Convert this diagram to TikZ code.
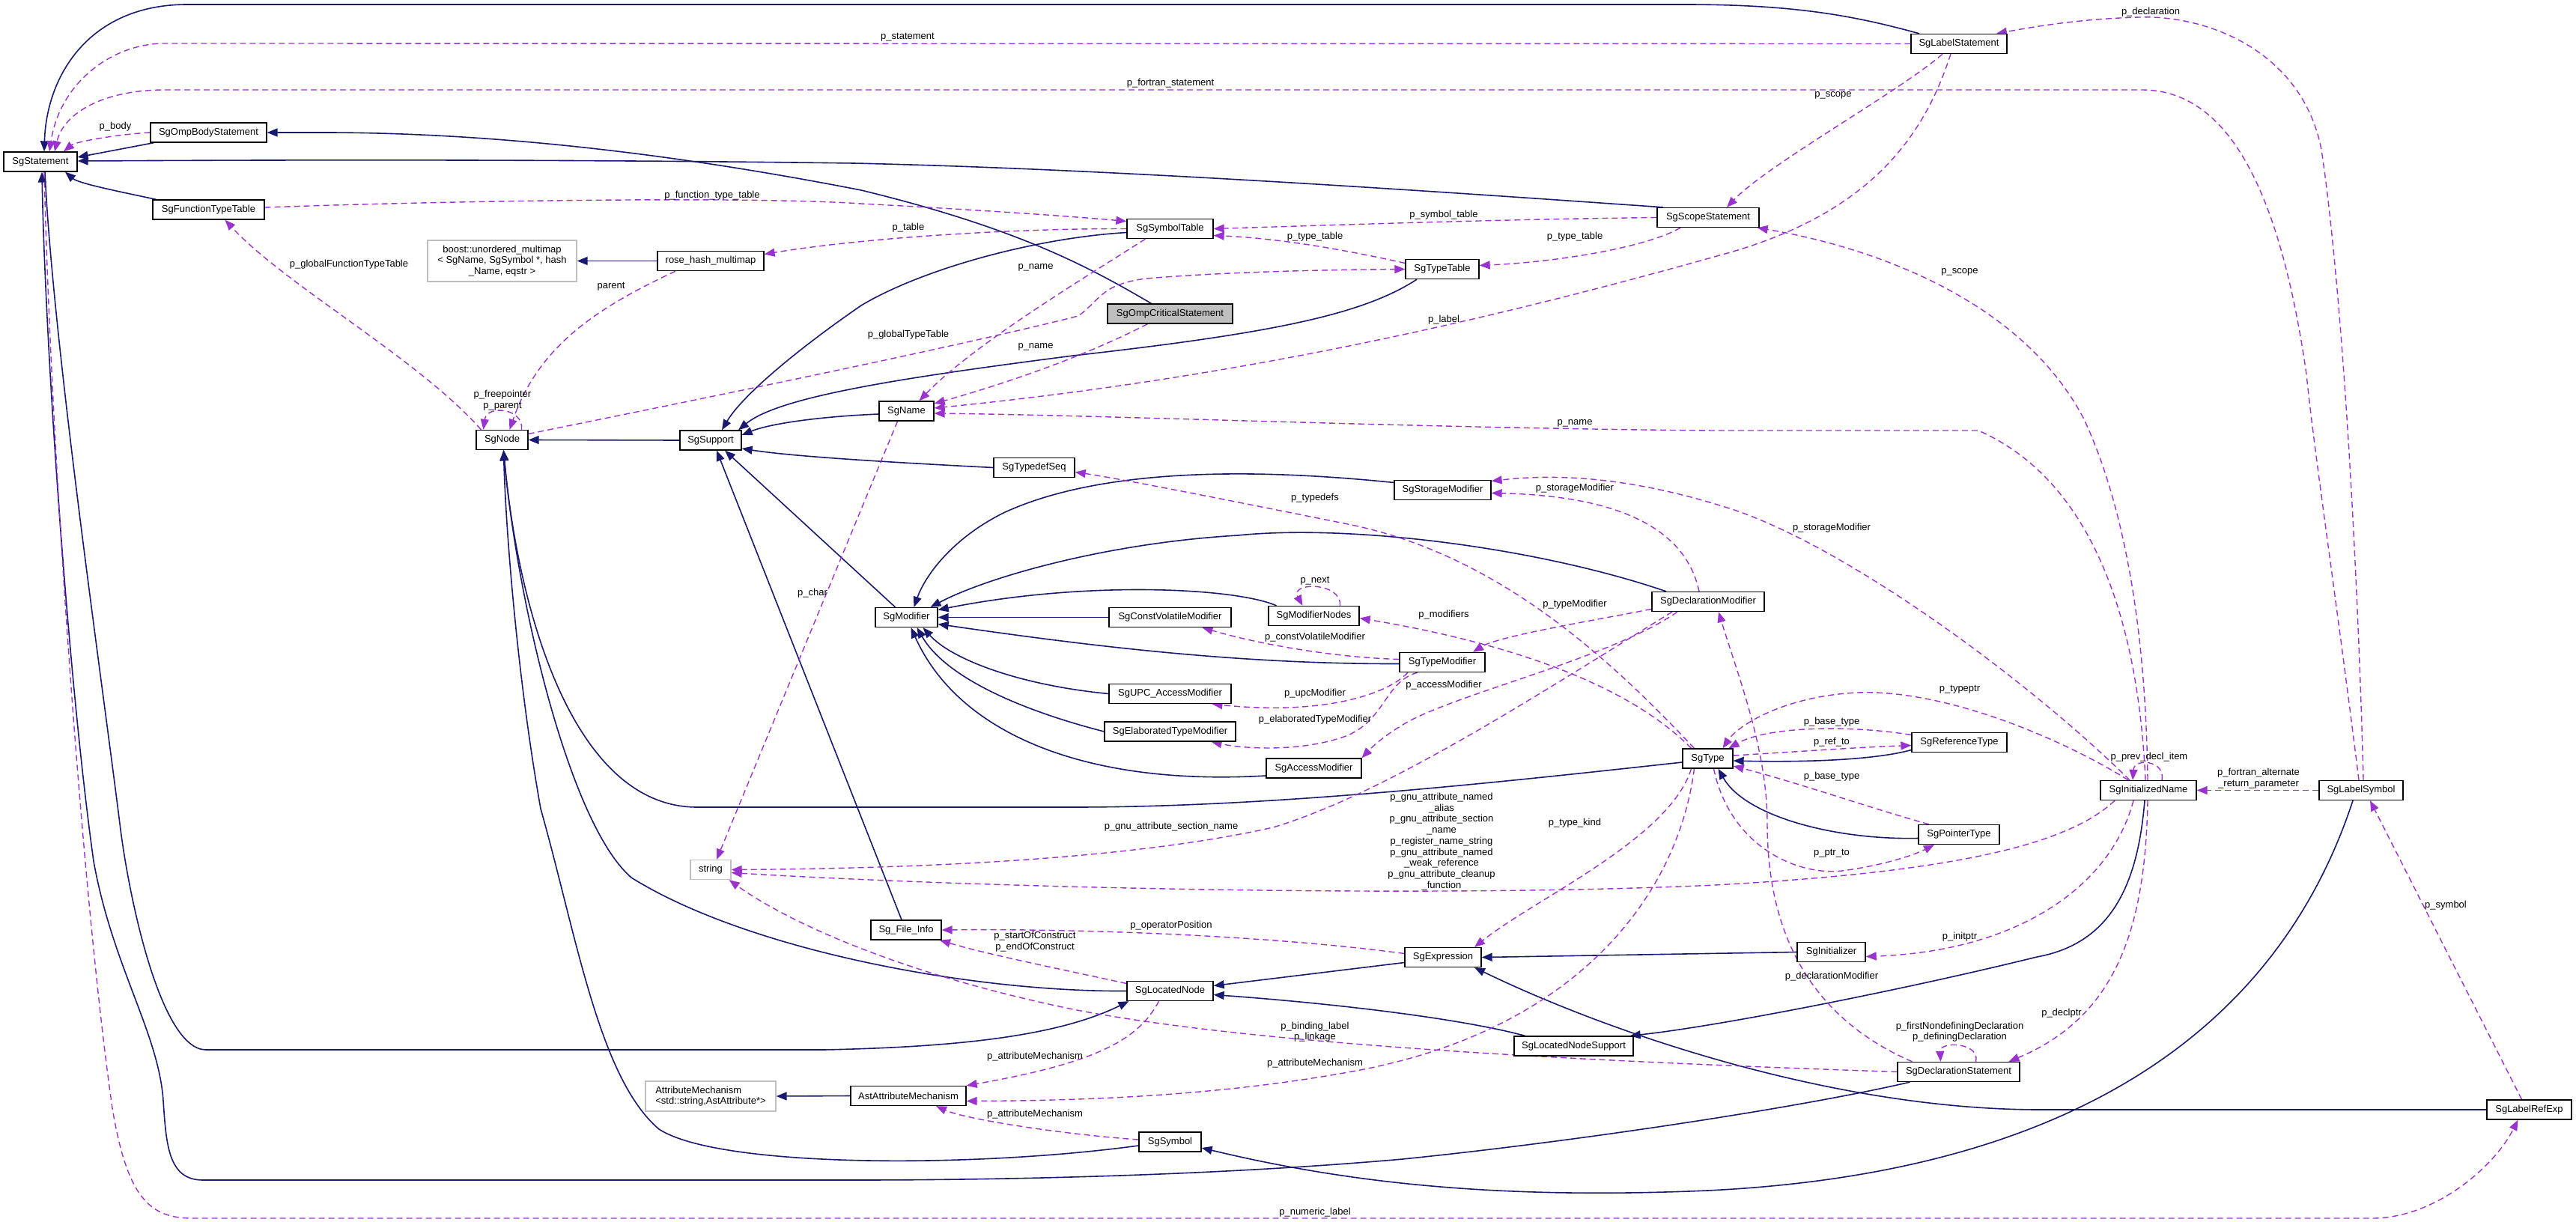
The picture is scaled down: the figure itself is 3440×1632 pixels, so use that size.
\documentclass[tikz,border=0pt]{standalone}
\usepackage{fontspec}
\setmainfont{Liberation Sans}
\usetikzlibrary{arrows.meta}
\definecolor{navyc}{RGB}{25,25,112}
\definecolor{purp}{RGB}{154,50,205}
\definecolor{extgray}{RGB}{191,191,191}
\newcommand\dfont{\fontsize{13pt}{14.75pt}\selectfont}
\pgfdeclarelayer{bg}
\pgfsetlayers{bg,main}
\tikzset{
  box/.style={draw=black, line width=1.3pt, fill=white, inner sep=0pt, minimum height=26pt, font=\dfont},
  ext/.style={box, draw=extgray},
  inh/.style={draw=navyc, line width=1.6pt, -{Triangle[length=14pt,width=11pt]}},
  use/.style={draw=purp, line width=1.4pt, dash pattern=on 8pt off 5pt, -{Triangle[length=14pt,width=11pt]}},
  lab/.style={font=\dfont, inner sep=0pt, align=center}
}
\begin{document}
\begin{tikzpicture}[x=1pt,y=-1pt]
\useasboundingbox (0,0) rectangle (3440,1632);
% nodes
\node[box, minimum width=98pt] (stmt) at (54,216) {SgStatement};
\node[box, minimum width=155pt] (ombody) at (278.5,177) {SgOmpBodyStatement};
\node[box, minimum width=149pt] (ftt) at (278.5,280) {SgFunctionTypeTable};
\node[ext, minimum width=199pt, minimum height=55pt, align=center] (boost) at (670.5,348.5) {boost::unordered\_multimap\\< SgName, SgSymbol *, hash\\\_Name, eqstr >};
\node[box, minimum width=142pt] (rose) at (949,348.5) {rose\_hash\_multimap};
\node[box, minimum width=69pt] (sgnode) at (670.5,587.5) {SgNode};
\node[box, minimum width=82pt] (support) at (949,588) {SgSupport};
\node[box, minimum width=115pt] (symtab) at (1562.5,305.5) {SgSymbolTable};
\node[box, minimum width=98pt] (typetab) at (1926,359.5) {SgTypeTable};
\node[box, fill=extgray, minimum width=167pt] (crit) at (1562.5,419) {SgOmpCriticalStatement};
\node[box, minimum width=73pt] (name) at (1210.5,549) {SgName};
\node[box, minimum width=136pt] (scope) at (2281,290.5) {SgScopeStatement};
\node[box, minimum width=128pt] (labstmt) at (2616,58.5) {SgLabelStatement};
\node[box, minimum width=108pt] (tdseq) at (1381,624.5) {SgTypedefSeq};
\node[box, minimum width=129pt] (storage) at (1926.5,654.5) {SgStorageModifier};
\node[box, minimum width=83pt] (modifier) at (1210.5,824.5) {SgModifier};
\node[box, minimum width=163pt] (cvmod) at (1562.5,824.5) {SgConstVolatileModifier};
\node[box, minimum width=121pt] (modnodes) at (1754.5,822.5) {SgModifierNodes};
\node[box, minimum width=150pt] (declmod) at (2281,803.5) {SgDeclarationModifier};
\node[box, minimum width=114pt] (typemod) at (1926,884.5) {SgTypeModifier};
\node[box, minimum width=163pt] (upc) at (1562.5,926.5) {SgUPC\_AccessModifier};
\node[box, minimum width=175pt] (elab) at (1562.5,977) {SgElaboratedTypeModifier};
\node[box, minimum width=127pt] (access) at (1754.5,1026) {SgAccessModifier};
\node[box, minimum width=67pt] (type) at (2280.5,1013) {SgType};
\node[box, minimum width=127pt] (reftype) at (2616.5,991.5) {SgReferenceType};
\node[box, minimum width=128pt] (initname) at (2869,1055.5) {SgInitializedName};
\node[box, minimum width=112pt] (labsym) at (3153,1055.5) {SgLabelSymbol};
\node[ext, minimum width=54pt] (string) at (949,1161.5) {string};
\node[ext, minimum width=174pt, minimum height=40pt, align=left] (attrmech) at (949,1464) {AttributeMechanism\\<std::string,AstAttribute*>};
\node[box, minimum width=94pt] (fileinfo) at (1210,1242) {Sg\_File\_Info};
\node[box, minimum width=102pt] (expr) at (1927,1278.5) {SgExpression};
\node[box, minimum width=115pt] (locnode) at (1562.5,1323.5) {SgLocatedNode};
\node[box, minimum width=159pt] (locsupp) at (2101.5,1397) {SgLocatedNodeSupport};
\node[box, minimum width=154pt] (astattr) at (1213,1463.5) {AstAttributeMechanism};
\node[box, minimum width=83pt] (symbol) at (1562.5,1525) {SgSymbol};
\node[box, minimum width=108pt] (ptrtype) at (2616,1114.5) {SgPointerType};
\node[box, minimum width=91pt] (initializer) at (2445.5,1271.5) {SgInitializer};
\node[box, minimum width=163pt] (declstmt) at (2615.5,1431.5) {SgDeclarationStatement};
\node[box, minimum width=113pt] (labref) at (3377.5,1482) {SgLabelRefExp};
% labels
\node[lab] (l1) at (154,169) {p\_body};
\node[lab] (l2) at (1212,50) {p\_statement};
\node[lab] (l3) at (1563,111) {p\_fortran\_statement};
\node[lab] (l4) at (2872,16) {p\_declaration};
\node[lab] (l5) at (2448,127) {p\_scope};
\node[lab] (l6) at (1928,427) {p\_label};
\node[lab] (l7) at (2617,363) {p\_scope};
\node[lab] (l8) at (1928,287) {p\_symbol\_table};
\node[lab] (l9) at (2103,316) {p\_type\_table};
\node[lab] (l10) at (1756,316) {p\_type\_table};
\node[lab] (l11) at (951,261) {p\_function\_type\_table};
\node[lab] (l12) at (1213,304) {p\_table};
\node[lab] (l13) at (816,383) {parent};
\node[lab] (l14) at (466,353) {p\_globalFunctionTypeTable};
\node[lab] (l15) at (1213,447) {p\_globalTypeTable};
\node[lab] (l16) at (671,535) {p\_freepointer\\p\_parent};
\node[lab] (l17) at (1383,357) {p\_name};
\node[lab] (l18) at (1383,463) {p\_name};
\node[lab] (l19) at (2103,565) {p\_name};
\node[lab] (l20) at (1085,792) {p\_char};
\node[lab] (l21) at (1756,665) {p\_typedefs};
\node[lab] (l22) at (2103,652) {p\_storageModifier};
\node[lab] (l23) at (2446,705) {p\_storageModifier};
\node[lab] (l24) at (1756,776) {p\_next};
\node[lab] (l25) at (1928,821) {p\_modifiers};
\node[lab] (l26) at (1756,851) {p\_constVolatileModifier};
\node[lab] (l27) at (2103,807) {p\_typeModifier};
\node[lab] (l28) at (1928,915) {p\_accessModifier};
\node[lab] (l29) at (1756,926) {p\_upcModifier};
\node[lab] (l30) at (1756,961) {p\_elaboratedTypeModifier};
\node[lab] (l31) at (1564,1104) {p\_gnu\_attribute\_section\_name};
\node[lab] (l32) at (1925,1124) {p\_gnu\_attribute\_named\\\_alias\\p\_gnu\_attribute\_section\\\_name\\p\_register\_name\_string\\p\_gnu\_attribute\_named\\\_weak\_reference\\p\_gnu\_attribute\_cleanup\\\_function};
\node[lab] (l33) at (2103,1099) {p\_type\_kind};
\node[lab] (l34) at (1564,1236) {p\_operatorPosition};
\node[lab] (l35) at (1382,1258) {p\_startOfConstruct\\p\_endOfConstruct};
\node[lab] (l36) at (1756,1378) {p\_binding\_label\\p\_linkage};
\node[lab] (l37) at (1382,1411) {p\_attributeMechanism};
\node[lab] (l38) at (1756,1420) {p\_attributeMechanism};
\node[lab] (l39) at (1382,1488) {p\_attributeMechanism};
\node[lab] (l40) at (1756,1619) {p\_numeric\_label};
\node[lab] (l41) at (2617,921) {p\_typeptr};
\node[lab] (l42) at (2446,964) {p\_base\_type};
\node[lab] (l43) at (2446,991) {p\_ref\_to};
\node[lab] (l44) at (2446,1037) {p\_base\_type};
\node[lab] (l45) at (2870,1011) {p\_prev\_decl\_item};
\node[lab] (l46) at (3016,1040) {p\_fortran\_alternate\\\_return\_parameter};
\node[lab] (l47) at (2446,1140) {p\_ptr\_to};
\node[lab] (l48) at (2617,1251) {p\_initptr};
\node[lab] (l49) at (2446,1304) {p\_declarationModifier};
\node[lab] (l50) at (2753,1353) {p\_declptr};
\node[lab] (l51) at (2617,1378) {p\_firstNondefiningDeclaration\\p\_definingDeclaration};
\node[lab] (l52) at (3266,1209) {p\_symbol};
\begin{pgfonlayer}{bg}
\fill[white] (0,0) rectangle (3440,1632);
% inheritance
\draw[inh] ([xshift=-73pt]ombody.south) -- ([yshift=6pt]stmt.east);
\draw[inh] ([xshift=-25pt]crit.north) .. controls (1455,357) and (1360,305) .. (1150,254) .. controls (950,215) and (700,178) .. (440,177) -- (ombody.east);
\draw[inh] ([xshift=-60pt]scope.north) .. controls (1950,258) and (1500,226) .. (1140,218) .. controls (700,212) and (300,214) .. ([yshift=1pt]stmt.east);
\draw[inh] ([xshift=-70pt]ftt.north) .. controls (160,256) and (105,245) .. ([xshift=33pt]stmt.south);
\draw[inh] ([xshift=-53pt]labstmt.north) .. controls (2480,22) and (2400,6) .. (2250,6) -- (250,6) .. controls (120,6) and (62,100) .. ([xshift=5pt]stmt.north);
\draw[inh] ([xshift=-65pt]declstmt.south) .. controls (2400,1480) and (2100,1525) .. (1873,1548) .. controls (1600,1572) and (1300,1576) .. (1140,1576) -- (271,1576) .. controls (225,1576) and (222,1530) .. (218,1470) .. controls (212,1380) and (150,1290) .. (125,1150) .. controls (90,900) and (60,450) .. ([xshift=2pt]stmt.south);
\draw[inh] ([xshift=6pt]stmt.south) .. controls (70,450) and (135,900) .. (160,1100) .. controls (172,1200) and (215,1402) .. (275,1402) -- (1100,1402) .. controls (1300,1398) and (1420,1380) .. ([xshift=-55pt]locnode.south);
\draw[inh] (rose.west) -- (boost.east);
\draw[inh] (support.west) -- (sgnode.east);
\draw[inh] ([yshift=-5pt]symtab.west) .. controls (1380,318) and (1230,360) .. (1150,408) .. controls (1060,470) and (990,530) .. ([xshift=15pt]support.north);
\draw[inh] ([xshift=-34pt]typetab.south) .. controls (1820,420) and (1700,445) .. (1433,475) .. controls (1200,505) and (1040,530) .. ([xshift=37pt]support.north);
\draw[inh] ([yshift=-4pt]name.west) .. controls (1100,556) and (1030,565) .. ([yshift=7pt]support.east);
\draw[inh] (tdseq.west) .. controls (1200,618) and (1060,610) .. ([yshift=-11pt]support.east);
\draw[inh] ([xshift=-15pt]modifier.north) -- ([xshift=19pt]support.south);
\draw[inh] ([xshift=-6pt]fileinfo.north) -- ([xshift=8pt]support.south);
\draw[inh] ([yshift=-5pt]type.west) .. controls (2000,1045) and (1700,1078) .. (1433,1078) -- (931,1078) .. controls (760,1078) and (690,800) .. ([xshift=2pt]sgnode.south);
\draw[inh] (locnode.west) .. controls (1300,1325) and (1000,1270) .. (843,1172) .. controls (760,1100) and (690,800) .. ([xshift=2pt]sgnode.south);
\draw[inh] ([yshift=-5pt]symbol.west) .. controls (1300,1560) and (960,1560) .. (880,1508) .. controls (800,1440) and (770,1250) .. (722,1080) .. controls (690,900) and (675,700) .. ([xshift=2pt]sgnode.south);
\draw[inh] ([yshift=10pt]storage.west) .. controls (1700,628) and (1480,620) .. (1340,685) .. controls (1270,720) and (1235,770) .. ([xshift=10pt]modifier.north);
\draw[inh] ([xshift=-56pt]declmod.north) .. controls (2050,730) and (1800,700) .. (1653,715) .. controls (1480,725) and (1320,770) .. ([xshift=32pt]modifier.north);
\draw[inh] ([xshift=-50pt]modnodes.north) .. controls (1650,785) and (1450,775) .. ([yshift=10pt]modifier.east);
\draw[inh] (cvmod.west) -- (modifier.east);
\draw[inh] ([yshift=-2pt]typemod.west) .. controls (1650,887) and (1450,862) .. ([yshift=-9pt]modifier.east);
\draw[inh] (upc.west) .. controls (1360,915) and (1270,880) .. ([xshift=22pt]modifier.south);
\draw[inh] (elab.west) .. controls (1350,945) and (1260,900) .. ([xshift=14pt]modifier.south);
\draw[inh] ([yshift=-10pt]access.west) .. controls (1450,1050) and (1280,980) .. ([xshift=6pt]modifier.south);
\draw[inh] ([yshift=-10pt]reftype.west) .. controls (2500,1016) and (2400,1018) .. ([yshift=-3pt]type.east);
\draw[inh] ([yshift=-5pt]ptrtype.west) .. controls (2450,1122) and (2330,1090) .. ([xshift=14pt]type.south);
\draw[inh] (initializer.west) -- (expr.east);
\draw[inh] (labref.west) -- (2724,1482) .. controls (2450,1482) and (2150,1380) .. ([xshift=42pt]expr.south);
\draw[inh] ([yshift=-7pt]expr.west) -- ([yshift=7pt]locnode.east);
\draw[inh] ([xshift=-65pt]locsupp.north) .. controls (1950,1360) and (1780,1340) .. ([yshift=-5pt]locnode.east);
\draw[inh] ([xshift=-5pt]initname.south) .. controls (2855,1180) and (2820,1260) .. (2720,1278) .. controls (2550,1320) and (2300,1370) .. ([xshift=-5pt]locsupp.north east);
\draw[inh] ([xshift=-11pt]labsym.south) .. controls (3050,1350) and (2800,1565) .. (2280,1590) .. controls (2000,1602) and (1800,1580) .. ([yshift=-8pt]symbol.east);
\draw[inh] (astattr.west) -- (attrmech.east);
% usage
\draw[use] (ombody.west) .. controls (150,180) and (100,190) .. ([xshift=31pt]stmt.north);
\draw[use] (labstmt.west) -- (220,58) .. controls (150,58) and (80,110) .. ([xshift=12pt]stmt.north);
\draw[use] ([xshift=-3pt]labsym.north) .. controls (3120,800) and (3090,600) .. (3080,500) .. controls (3040,220) and (2960,120) .. (2860,120) -- (220,120) .. controls (140,120) and (85,150) .. ([xshift=19pt]stmt.north);
\draw[use] ([xshift=3pt]labsym.north) .. controls (3150,800) and (3130,400) .. (3100,200) .. controls (3075,70) and (2950,20) .. (2857,23) .. controls (2780,25) and (2720,35) .. ([xshift=50pt]labstmt.north);
\draw[use] ([xshift=-22pt]labstmt.south) .. controls (2540,120) and (2360,220) .. ([xshift=25pt]scope.north);
\draw[use] ([xshift=-11pt]labstmt.south) .. controls (2570,180) and (2500,285) .. (2300,340) .. controls (2050,410) and (1700,500) .. ([yshift=4pt]name.east);
\draw[use] ([xshift=-1pt]initname.north) .. controls (2865,800) and (2825,650) .. (2783,560) .. controls (2700,400) and (2500,330) .. ([xshift=-3pt]scope.south east);
\draw[use] (scope.west) .. controls (2000,293) and (1800,300) .. (symtab.east);
\draw[use] ([xshift=-37pt]scope.south) .. controls (2200,330) and (2080,350) .. ([yshift=5pt]typetab.east);
\draw[use] ([yshift=8pt]typetab.west) .. controls (1780,330) and (1700,318) .. ([yshift=-9pt]symtab.east);
\draw[use] ([yshift=3pt]ftt.east) .. controls (600,268) and (1000,262) .. (1150,272) .. controls (1300,280) and (1420,288) .. ([yshift=10pt]symtab.west);
\draw[use] (symtab.west) .. controls (1350,305) and (1150,318) .. ([yshift=9pt]rose.east);
\draw[use] ([xshift=-47pt]rose.south) .. controls (800,410) and (720,460) .. ([xshift=10pt]sgnode.north);
\draw[use] ([xshift=-28pt]sgnode.north) .. controls (560,480) and (380,380) .. ([xshift=22pt]ftt.south);
\draw[use] ([yshift=8pt]sgnode.east) .. controls (850,550) and (1250,470) .. (1440,422) .. controls (1470,400) and (1470,380) .. (1530,372) .. controls (1650,362) and (1800,360) .. (typetab.west);
\draw[use] ([xshift=26pt]sgnode.north) .. controls (700,545) and (650,540) .. ([xshift=-25pt]sgnode.north);
\draw[use] ([xshift=-33pt]symtab.south) .. controls (1450,370) and (1300,460) .. ([xshift=17pt]name.north);
\draw[use] ([xshift=-30pt]crit.south) .. controls (1450,475) and (1350,510) .. ([yshift=10pt]name.east);
\draw[use] ([xshift=-4pt]initname.north) .. controls (2855,820) and (2790,640) .. (2642,575) -- (2290,575) .. controls (1900,572) and (1500,555) .. ([yshift=-3pt]name.east);
\draw[use] ([xshift=-12pt]name.south) -- ([xshift=8pt]string.north);
\draw[use] ([xshift=-18pt]type.north) .. controls (2150,880) and (2000,740) .. (1800,700) .. controls (1650,670) and (1500,640) .. ([yshift=-6pt]tdseq.east);
\draw[use] ([xshift=-12pt]declmod.north) .. controls (2250,700) and (2150,662) .. ([yshift=-4pt]storage.east);
\draw[use] ([xshift=-25pt]initname.north) .. controls (2700,900) and (2450,720) .. (2300,676) .. controls (2200,645) and (2100,630) .. ([yshift=12pt]storage.east);
\draw[use] ([xshift=35pt]modnodes.north) .. controls (1792,777) and (1722,777) .. ([xshift=-15pt]modnodes.north);
\draw[use] ([xshift=-22pt]type.north) .. controls (2200,940) and (2080,870) .. ([yshift=-3pt]modnodes.east);
\draw[use] ([yshift=4pt]typemod.west) .. controls (1780,878) and (1680,860) .. ([xshift=43pt]cvmod.south);
\draw[use] ([yshift=-10pt]declmod.west) .. controls (2120,830) and (2000,850) .. ([xshift=41pt]typemod.north);
\draw[use] ([xshift=-41pt]declmod.south) .. controls (2150,880) and (1930,930) .. (1870,970) .. controls (1845,985) and (1830,1000) .. ([xshift=64pt]access.north);
\draw[use] ([xshift=-46pt]typemod.south) .. controls (1850,930) and (1760,955) .. ([xshift=56pt]upc.south);
\draw[use] ([xshift=-33pt]typemod.south) .. controls (1850,910) and (1850,960) .. (1800,982) .. controls (1740,1005) and (1660,1000) .. ([xshift=55pt]elab.south);
\draw[use] ([xshift=-48pt]declmod.south) .. controls (2050,930) and (1850,1060) .. (1700,1105) .. controls (1500,1150) and (1200,1160) .. (string.east);
\draw[use] ([xshift=-45pt]initname.south) .. controls (2760,1130) and (2600,1165) .. (2290,1182) .. controls (1900,1200) and (1300,1185) .. ([yshift=-4pt]string.east);
\draw[use] ([xshift=-22pt]type.south) .. controls (2230,1120) and (2050,1200) .. ([xshift=42pt]expr.north);
\draw[use] ([yshift=5pt]expr.west) .. controls (1700,1250) and (1450,1240) .. (fileinfo.east);
\draw[use] ([yshift=10pt]locnode.west) .. controls (1420,1295) and (1320,1275) .. ([xshift=45pt]fileinfo.south);
\draw[use] ([xshift=-15pt]locnode.south) .. controls (1520,1390) and (1460,1420) .. (astattr.north east);
\draw[use] ([xshift=-18pt]type.south) .. controls (2240,1200) and (2100,1380) .. (1800,1432) .. controls (1600,1468) and (1400,1470) .. ([yshift=-7pt]astattr.east);
\draw[use] ([yshift=3pt]symbol.west) .. controls (1420,1515) and (1290,1495) .. ([xshift=37pt]astattr.south);
\draw[use] (declstmt.west) .. controls (2200,1420) and (1700,1400) .. (1433,1348) .. controls (1200,1300) and (1050,1230) .. ([xshift=-3pt]string.south east);
\draw[use] ([xshift=-62pt]declstmt.north) .. controls (2420,1360) and (2360,1250) .. (2360,1100) .. controls (2360,1000) and (2320,900) .. ([xshift=14pt]declmod.south);
\draw[use] ([xshift=23pt]declstmt.north) .. controls (2645,1392) and (2590,1390) .. ([xshift=-24pt]declstmt.north);
\draw[use] ([xshift=-1pt]initname.south) .. controls (2865,1250) and (2820,1360) .. ([xshift=67pt]declstmt.north);
\draw[use] ([xshift=-20pt]initname.south) .. controls (2820,1180) and (2700,1270) .. ([yshift=-6pt]initializer.east);
\draw[use] ([xshift=-27pt]initname.north) .. controls (2760,990) and (2600,920) .. (2480,925) .. controls (2380,930) and (2320,970) .. ([xshift=20pt]type.north);
\draw[use] ([xshift=18pt]initname.north) .. controls (2892,1015) and (2850,1012) .. ([xshift=-21pt]initname.north);
\draw[use] ([yshift=10pt]reftype.west) .. controls (2470,968) and (2360,970) .. ([xshift=28pt]type.north);
\draw[use] ([yshift=4pt]type.east) .. controls (2400,1004) and (2480,998) .. ([yshift=-4pt]reftype.west);
\draw[use] ([xshift=-40pt]ptrtype.north) .. controls (2500,1080) and (2400,1045) .. ([yshift=-10pt]type.east);
\draw[use] ([xshift=8pt]type.south) .. controls (2310,1130) and (2400,1170) .. (2460,1163) .. controls (2520,1155) and (2560,1140) .. ([xshift=-33pt]ptrtype.south);
\draw[use] (labsym.west) -- (initname.east);
\draw[use] ([xshift=-10pt]labref.north) -- ([xshift=12pt]labsym.south);
\draw[use] ([xshift=5pt]stmt.south) .. controls (68,600) and (110,1200) .. (150,1480) .. controls (170,1600) and (200,1627) .. (257,1627) -- (3168,1627) .. controls (3250,1627) and (3330,1560) .. ([xshift=-15pt]labref.south);
\end{pgfonlayer}
\end{tikzpicture}
\end{document}
